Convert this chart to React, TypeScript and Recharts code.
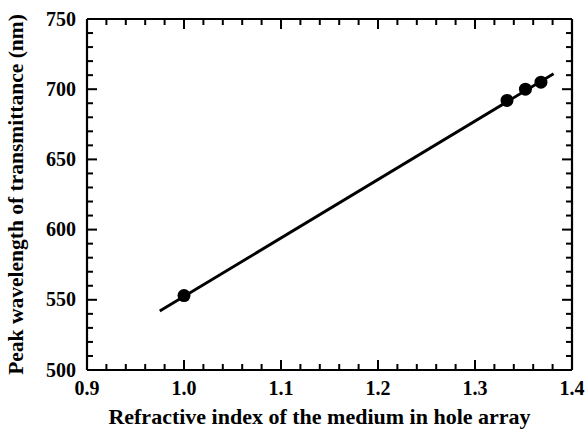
import { ScatterChart, Scatter, XAxis, YAxis } from 'recharts'

const refractiveIndex = [1.0, 1.333, 1.352, 1.368]
const peakWavelength = [553, 692, 700, 705]
const fitIndex = [0.975, 1.381]
const fitWavelength = [542, 711]

const xMajorTicks = [0.9, 1.0, 1.1, 1.2, 1.3, 1.4]
const yMajorTicks = [500, 550, 600, 650, 700, 750]

const xTicks: number[] = []
for (let k = 0; k <= 25; k++) xTicks.push(+(0.9 + k * 0.02).toFixed(2))
const yTicks: number[] = []
for (let k = 0; k <= 25; k++) yTicks.push(500 + k * 10)

const points = refractiveIndex.map((n, i) => ({ n, peak: peakWavelength[i] }))
const fitLine = fitIndex.map((n, i) => ({ n, peak: fitWavelength[i] }))

const FONT = '"Liberation Serif", "Times New Roman", serif'
const MINOR = 6
const MAJOR = 10
const MARK = '#000'
const isMajor = (list: number[], v: number) => list.some(m => Math.abs(m - v) < 1e-6)

// ticks point inward on all four sides, labels only on majors
function BottomTick({ x, y, payload }: any) {
  const len = isMajor(xMajorTicks, payload.value) ? MAJOR : MINOR
  return (
    <g>
      <rect x={Number(x) - 1} y={Number(y) - len} width={2} height={len} fill={MARK} />
      {len === MAJOR && (
        <text x={x} y={Number(y) + 25} textAnchor="middle" fontFamily={FONT} fontWeight="bold" fontSize={20} fill="#000">
          {payload.value.toFixed(1)}
        </text>
      )}
    </g>
  )
}

function TopTick({ x, y, payload }: any) {
  const len = isMajor(xMajorTicks, payload.value) ? MAJOR : MINOR
  return <rect x={Number(x) - 1} y={Number(y)} width={2} height={len} fill={MARK} />
}

function LeftTick({ x, y, payload }: any) {
  const len = isMajor(yMajorTicks, payload.value) ? MAJOR : MINOR
  return (
    <g>
      <rect x={Number(x)} y={Number(y) - 1} width={len} height={2} fill={MARK} />
      {len === MAJOR && (
        <text x={Number(x) - 11} y={Number(y) + 6.5} textAnchor="end" fontFamily={FONT} fontWeight="bold" fontSize={20} fill="#000">
          {payload.value}
        </text>
      )}
    </g>
  )
}

function RightTick({ x, y, payload }: any) {
  const len = isMajor(yMajorTicks, payload.value) ? MAJOR : MINOR
  return <rect x={Number(x) - len} y={Number(y) - 1} width={len} height={2} fill={MARK} />
}

export default function App() {
  return (
    <div style={{ width: 586, height: 432, background: '#fff' }}>
      <style>{'body{margin:0}'}</style>
      <ScatterChart width={586} height={432} margin={{ top: 18, right: 13, left: 0, bottom: 0 }}>
        <XAxis
          type="number"
          dataKey="n"
          domain={[0.9, 1.4]}
          ticks={xTicks}
          interval={0}
          tick={(p: any) => <BottomTick {...p} />}
          tickLine={false}
          tickSize={0}
          tickMargin={0}
          height={62}
          axisLine={{ stroke: '#000', strokeWidth: 2.2 }}
          label={{
            value: 'Refractive index of the medium in hole array',
            position: 'insideBottom',
            offset: 8,
            dx: -10,
            style: { fontFamily: FONT, fontWeight: 'bold', fontSize: 22, fill: '#000' },
          }}
        />
        <XAxis
          xAxisId="top"
          orientation="top"
          type="number"
          dataKey="n"
          domain={[0.9, 1.4]}
          ticks={xTicks}
          interval={0}
          tick={(p: any) => <TopTick {...p} />}
          tickLine={false}
          tickSize={0}
          tickMargin={0}
          height={1}
          axisLine={{ stroke: '#000', strokeWidth: 2.2 }}
        />
        <YAxis
          type="number"
          dataKey="peak"
          domain={[500, 750]}
          ticks={yTicks}
          interval={0}
          tick={(p: any) => <LeftTick {...p} />}
          tickLine={false}
          tickSize={0}
          tickMargin={0}
          width={87}
          axisLine={{ stroke: '#000', strokeWidth: 2.2 }}
          label={{
            value: 'Peak wavelength of transmittance (nm)',
            angle: -90,
            position: 'insideLeft',
            offset: 15,
            style: { textAnchor: 'middle', fontFamily: FONT, fontWeight: 'bold', fontSize: 21.5, fill: '#000' },
          }}
        />
        <YAxis
          yAxisId="right"
          orientation="right"
          type="number"
          dataKey="peak"
          domain={[500, 750]}
          ticks={yTicks}
          interval={0}
          tick={(p: any) => <RightTick {...p} />}
          tickLine={false}
          tickSize={0}
          tickMargin={0}
          width={1}
          axisLine={{ stroke: '#000', strokeWidth: 2.2 }}
        />
        <Scatter
          data={fitLine}
          line={{ stroke: '#000', strokeWidth: 2.8 }}
          shape={() => <g />}
          isAnimationActive={false}
        />
        <Scatter
          data={points}
          fill="#000"
          shape={(p: any) => <circle cx={p.cx} cy={p.cy} r={6.5} fill="#000" />}
          isAnimationActive={false}
        />
        {/* hidden series so the top / right frame axes get drawn */}
        <Scatter
          xAxisId="top"
          yAxisId="right"
          data={points}
          shape={() => <g />}
          isAnimationActive={false}
        />
      </ScatterChart>
    </div>
  )
}
